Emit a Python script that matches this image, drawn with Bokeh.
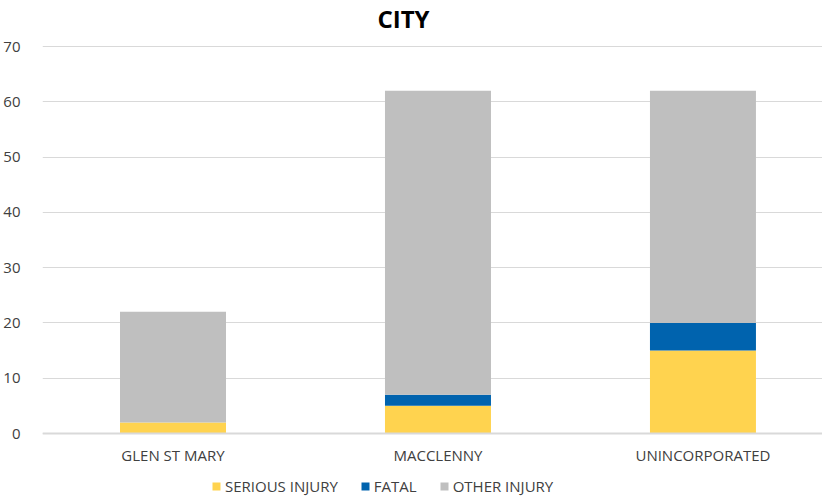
from bokeh.plotting import figure
from bokeh.models import ColumnDataSource, Range1d, FixedTicker, Legend, LegendItem, Label
from bokeh.embed import file_html
from bokeh.resources import INLINE

title_text = "CITY"
cities = ["GLEN ST MARY", "MACCLENNY", "UNINCORPORATED"]
serious_injury = [2, 5, 15]
fatal = [0, 2, 5]
other_injury = [20, 55, 42]
series = ["SERIOUS INJURY", "FATAL", "OTHER INJURY"]
colors = ["#FFD34F", "#0063AE", "#BFBFBF"]
y_ticks = [0, 10, 20, 30, 40, 50, 60, 70]

x_pos = [i + 0.5 for i in range(len(cities))]
source = ColumnDataSource(dict(x=x_pos, city=cities, s=serious_injury, f=fatal, o=other_injury))

FONT = "Open Sans"
W, H = 822, 496
LEFT, TOP70, ZERO_Y = 39, 46, 433
cat_px = 266.0
x0 = 2 / cat_px
px_per_unit = (ZERO_Y - TOP70) / 70.0
y_max = 70 + TOP70 / px_per_unit
y_min = -(H - ZERO_Y) / px_per_unit

p = figure(x_range=Range1d(x0, x0 + (W - LEFT) / cat_px), y_range=Range1d(y_min, y_max),
           width=W, height=H, output_backend="svg", toolbar_location=None)
p.min_border_left = LEFT
p.min_border_right = 0
p.min_border_top = 0
p.min_border_bottom = 0
p.outline_line_color = None

renderers = p.vbar_stack(["s", "f", "o"], x="x", width=0.4, source=source,
                         color=colors, line_color=None)

p.yaxis.ticker = FixedTicker(ticks=y_ticks)
p.yaxis.axis_line_color = None
p.yaxis.major_tick_line_color = None
p.yaxis.minor_tick_line_color = None
p.yaxis.major_label_text_font = FONT
p.yaxis.major_label_text_font_size = "15px"
p.yaxis.major_label_text_color = "#404040"
p.yaxis.major_label_standoff = 16

p.xaxis.fixed_location = 0
p.xaxis.ticker = FixedTicker(ticks=x_pos)
p.xaxis.major_label_overrides = {x: c for x, c in zip(x_pos, cities)}
p.xaxis.axis_line_color = "#D9D9D9"
p.xaxis.axis_line_width = 2
p.xaxis.major_tick_line_color = None
p.xaxis.minor_tick_line_color = None
p.xaxis.major_label_text_font = FONT
p.xaxis.major_label_text_font_size = "15px"
p.xaxis.major_label_text_color = "#404040"
p.xaxis.major_label_standoff = 5

p.xgrid.grid_line_color = None
p.ygrid.grid_line_color = "#D9D9D9"
p.ygrid.grid_line_width = 1

title = Label(x=361, y=H - 18, x_units="screen", y_units="screen", text=title_text,
              text_align="center", text_baseline="alphabetic", text_font=FONT,
              text_font_size="24px", text_font_style="bold", text_color="#000000")
p.add_layout(title)

legend = Legend(items=[LegendItem(label=series[i], renderers=[renderers[i]]) for i in range(3)],
                orientation="horizontal", location=(169, 0),
                glyph_width=10, glyph_height=10, label_text_font=FONT,
                label_text_font_size="15px", label_text_color="#404040",
                spacing=22, padding=0, margin=0, label_standoff=4, label_height=14,
                background_fill_alpha=0, border_line_color=None)
p.add_layout(legend, "center")

open("out.html", "w").write(file_html(p, INLINE))
